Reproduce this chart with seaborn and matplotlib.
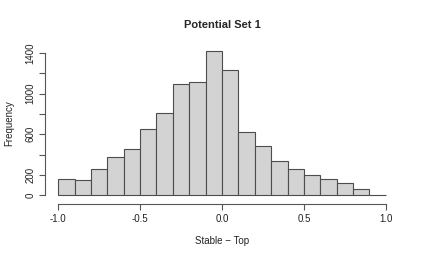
import numpy as np
import pandas as pd
import matplotlib
matplotlib.use("Agg")
import matplotlib.pyplot as plt
import seaborn as sns

# bin edges and counts
bin_edges = [round(-1.0 + 0.1 * i, 2) for i in range(21)]
counts = [155, 145, 256, 381, 457, 654, 811, 1094, 1111, 1420,
          1232, 618, 486, 335, 256, 200, 161, 125, 62, 7]
x_ticks = [-1.0, -0.5, 0.0, 0.5, 1.0]
y_ticks = [0, 200, 400, 600, 800, 1000, 1200, 1400]
y_labels = ['0', '200', '', '600', '', '1000', '', '1400']

sns.set_style("white")
plt.rcParams['font.family'] = ['Liberation Sans', 'DejaVu Sans']

fig = plt.figure(figsize=(4.22, 2.57), dpi=100)
ax = fig.add_axes([45 / 422, 56 / 257, 354 / 422, 156 / 257])

df = pd.DataFrame({
    'center': [(a + b) / 2 for a, b in zip(bin_edges[:-1], bin_edges[1:])],
    'count': counts,
})
sns.histplot(data=df, x='center', weights='count', bins=bin_edges, ax=ax,
             color='#d3d3d3', edgecolor='#4d4d4d', linewidth=0.8, alpha=1)

ax.set_xlim(-1.08, 1.08)
ax.set_ylim(-57, 1480)
for s in ['top', 'right']:
    ax.spines[s].set_visible(False)
ax.spines['bottom'].set_bounds(-1.0, 1.0)
ax.spines['left'].set_bounds(0, 1400)
ax.spines['bottom'].set_position(('outward', 2))
for s in ['bottom', 'left']:
    ax.spines[s].set_color('#555555')
    ax.spines[s].set_linewidth(0.8)

ax.set_xticks(x_ticks)
ax.set_xticklabels(['-1.0', '-0.5', '0.0', '0.5', '1.0'])
ax.set_yticks(y_ticks)
ax.set_yticklabels(y_labels, rotation=90, va='center')
ax.tick_params(axis='both', direction='out', length=4, width=0.8,
               color='#555555', labelsize=7, labelcolor='#222222', pad=3,
               bottom=True, left=True)

ax.set_xlabel('Stable \u2212 Top', fontsize=7, color='#222222', labelpad=9)
ax.set_ylabel('Frequency', fontsize=7, color='#222222', labelpad=8)
ax.set_title('Potential Set 1', fontsize=8, fontweight='bold', pad=12)
ax.grid(False)

fig.savefig('out.png', dpi=100)
